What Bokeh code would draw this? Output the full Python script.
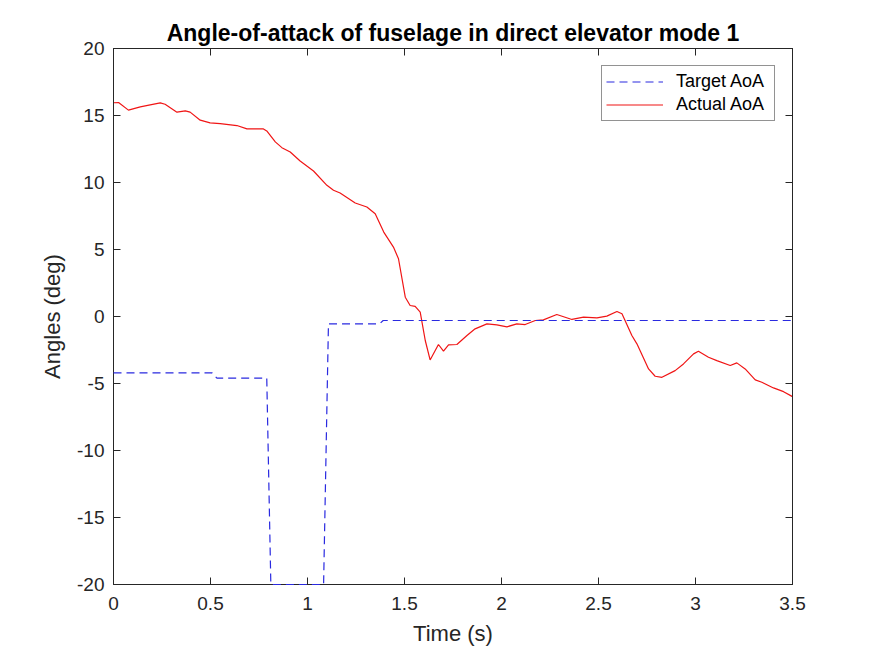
import bokeh.plotting
from bokeh.models import LinearAxis, FixedTicker, CustomJSTickFormatter, Range1d
from bokeh.embed import file_html
from bokeh.resources import INLINE

# target angle-of-attack (step commands)
target_t = [0.0, 0.507, 0.533, 0.79, 0.811, 1.083, 1.108, 1.371, 1.39, 3.5]
target_aoa = [-4.2, -4.2, -4.6, -4.6, -20.0, -20.0, -0.55, -0.55, -0.3, -0.3]

# measured angle-of-attack
actual_t = [0.0, 0.026, 0.077, 0.138, 0.189, 0.241, 0.266, 0.327, 0.37, 0.395,
            0.447, 0.498, 0.55, 0.636, 0.688, 0.773, 0.79, 0.834, 0.868, 0.911,
            0.962, 1.031, 1.1, 1.134, 1.168, 1.246, 1.306, 1.349, 1.393, 1.443,
            1.469, 1.504, 1.529, 1.555, 1.581, 1.607, 1.632, 1.675, 1.701, 1.727,
            1.77, 1.822, 1.864, 1.925, 1.976, 2.028, 2.079, 2.122, 2.174, 2.216,
            2.285, 2.363, 2.423, 2.492, 2.543, 2.595, 2.621, 2.672, 2.698, 2.758,
            2.792, 2.827, 2.895, 2.938, 2.99, 3.015, 3.067, 3.11, 3.179, 3.213,
            3.256, 3.308, 3.342, 3.402, 3.454, 3.5]
actual_aoa = [15.95, 15.97, 15.4, 15.64, 15.79, 15.94, 15.84, 15.25, 15.35, 15.25,
              14.65, 14.45, 14.4, 14.25, 14.0, 14.0, 13.85, 13.03, 12.6, 12.28,
              11.6, 10.86, 9.79, 9.42, 9.22, 8.47, 8.17, 7.67, 6.3, 5.18,
              4.31, 1.44, 0.82, 0.75, 0.32, -1.79, -3.24, -2.09, -2.59, -2.12,
              -2.09, -1.42, -0.92, -0.55, -0.62, -0.77, -0.55, -0.6, -0.3, -0.25,
              0.15, -0.22, -0.05, -0.1, 0.03, 0.37, 0.2, -1.42, -2.04, -3.91,
              -4.46, -4.54, -4.04, -3.54, -2.79, -2.59, -3.04, -3.29, -3.66, -3.46,
              -3.91, -4.73, -4.91, -5.33, -5.61, -5.98]

x_ticks = [0, 0.5, 1, 1.5, 2, 2.5, 3, 3.5]
x_tick_labels = ['0', '0.5', '1', '1.5', '2', '2.5', '3', '3.5']
y_ticks = [-20, -15, -10, -5, 0, 5, 10, 15, 20]
y_tick_labels = ['-20', '-15', '-10', '-5', '0', '5', '10', '15', '20']

FONT = 'Liberation Sans'
AX = '#262626'

p = bokeh.plotting.figure(width=875, height=656,
                          x_range=Range1d(0, 3.5), y_range=Range1d(-20, 20),
                          x_axis_label='Time (s)', y_axis_label='Angles (deg)',
                          title='Angle-of-attack of fuselage in direct elevator mode 1',
                          output_backend='svg', toolbar_location=None,
                          min_border_left=113, min_border_right=83,
                          min_border_top=48, min_border_bottom=72)

# target drawn above the axes so the part lying on y = -20 stays visible
p.line(target_t, target_aoa, color='#2a2ae0', line_width=1.2, line_dash='8 5',
       legend_label='Target AoA', level='overlay')
p.line(actual_t, actual_aoa, color='#f01515', line_width=1.2,
       legend_label='Actual AoA')

# axes styling, MATLAB box look
p.xgrid.visible = False
p.ygrid.visible = False
p.outline_line_color = AX
p.outline_line_alpha = 1.0
p.background_fill_color = 'white'
p.border_fill_color = 'white'

p.xaxis.ticker = FixedTicker(ticks=x_ticks)
p.xaxis.major_label_overrides = dict(zip(x_ticks, x_tick_labels))
p.yaxis.ticker = FixedTicker(ticks=y_ticks)
p.yaxis.major_label_overrides = dict(zip(y_ticks, y_tick_labels))

for ax in [p.xaxis[0], p.yaxis[0]]:
    ax.major_tick_in = 7
    ax.major_tick_out = 0
    ax.minor_tick_line_color = None
    ax.axis_line_color = AX
    ax.major_tick_line_color = AX
    ax.major_label_text_font = FONT
    ax.major_label_text_font_size = '19px'
    ax.major_label_text_color = AX
    ax.axis_label_text_font = FONT
    ax.axis_label_text_font_size = '22px'
    ax.axis_label_text_font_style = 'normal'
    ax.axis_label_text_color = AX

p.xaxis.major_label_standoff = 12
p.xaxis.axis_label_standoff = 8
p.yaxis.major_label_standoff = 9
p.yaxis.axis_label_standoff = 9

# ticks on top and right edges
blank = CustomJSTickFormatter(code="return ''")
top = LinearAxis(ticker=FixedTicker(ticks=x_ticks), formatter=blank,
                 major_tick_in=7, major_tick_out=0, minor_tick_line_color=None,
                 axis_line_color=AX, major_tick_line_color=AX,
                 major_label_standoff=0, major_label_text_font_size='10px')
right = LinearAxis(ticker=FixedTicker(ticks=y_ticks), formatter=blank,
                   major_tick_in=7, major_tick_out=0, minor_tick_line_color=None,
                   axis_line_color=AX, major_tick_line_color=AX,
                   major_label_standoff=0, major_label_text_font_size='10px')
p.add_layout(top, 'above')
p.add_layout(right, 'right')

p.title.text_font = FONT
p.title.text_font_size = '23px'
p.title.text_font_style = 'bold'
p.title.text_color = 'black'
p.title.align = 'center'
p.title.standoff = 6

p.legend.location = 'top_right'
p.legend.margin = 17
p.legend.padding = 4
p.legend.spacing = 0
p.legend.label_height = 23
p.legend.glyph_height = 23
p.legend.glyph_width = 57
p.legend.label_standoff = 13
p.legend.label_width = 94
p.legend.label_text_font = FONT
p.legend.label_text_font_size = '18px'
p.legend.label_text_color = 'black'
p.legend.border_line_color = AX
p.legend.border_line_width = 1
p.legend.background_fill_alpha = 1.0

open("out.html", "w").write(file_html(p, INLINE))
